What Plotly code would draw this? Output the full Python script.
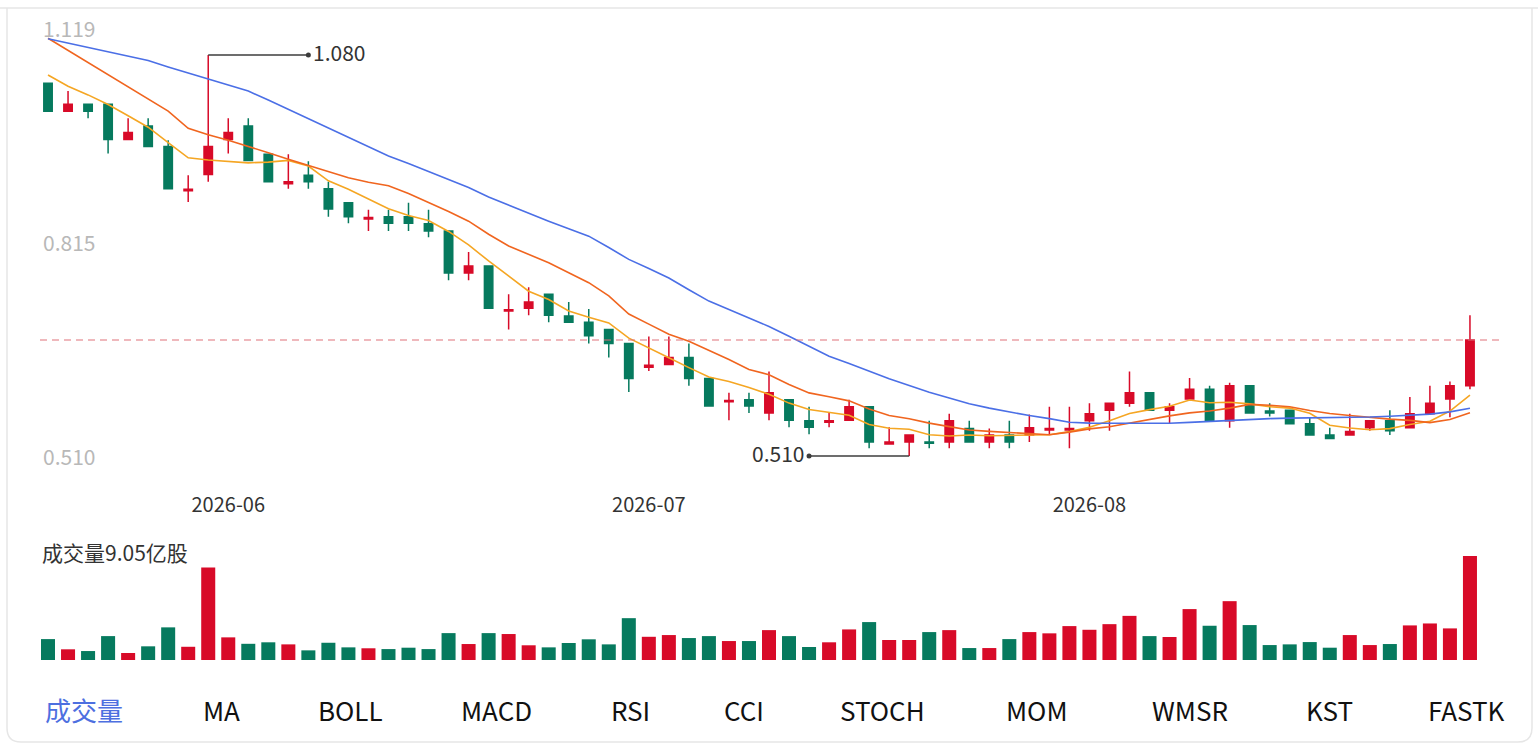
import plotly.graph_objects as go

W, H = 1538, 744

# trading day index (0 = first day shown) and month ticks
days = list(range(72))
month_ticks = [9, 30, 52]
month_labels = ["2026-06", "2026-07", "2026-08"]

open_ = [1.040, 1.000, 1.010, 1.010, 0.960, 0.979, 0.950, 0.887, 0.910, 0.960,
         0.979, 0.939, 0.897, 0.909, 0.890, 0.870, 0.847, 0.850, 0.850, 0.840,
         0.830, 0.770, 0.780, 0.716, 0.720, 0.740, 0.709, 0.700, 0.690, 0.670,
         0.636, 0.640, 0.650, 0.620, 0.587, 0.590, 0.571, 0.590, 0.560, 0.558,
         0.561, 0.580, 0.527, 0.530, 0.530, 0.530, 0.549, 0.530, 0.540, 0.540,
         0.547, 0.547, 0.560, 0.575, 0.585, 0.600, 0.575, 0.591, 0.605, 0.560,
         0.610, 0.574, 0.575, 0.556, 0.540, 0.540, 0.550, 0.560, 0.550, 0.570,
         0.591, 0.610]
high = [1.040, 1.029, 1.010, 1.010, 0.990, 0.990, 0.959, 0.909, 1.080, 0.990,
        0.990, 0.939, 0.939, 0.929, 0.900, 0.870, 0.860, 0.860, 0.870, 0.860,
        0.830, 0.800, 0.780, 0.740, 0.750, 0.740, 0.729, 0.719, 0.690, 0.670,
        0.680, 0.680, 0.670, 0.620, 0.600, 0.600, 0.630, 0.590, 0.580, 0.571,
        0.590, 0.580, 0.551, 0.540, 0.560, 0.570, 0.560, 0.549, 0.560, 0.569,
        0.580, 0.580, 0.585, 0.585, 0.630, 0.600, 0.585, 0.621, 0.610, 0.614,
        0.610, 0.585, 0.575, 0.565, 0.550, 0.570, 0.560, 0.575, 0.594, 0.610,
        0.616, 0.710]
low = [1.000, 1.000, 0.990, 0.940, 0.960, 0.950, 0.890, 0.871, 0.900, 0.940,
       0.930, 0.900, 0.890, 0.890, 0.850, 0.841, 0.830, 0.830, 0.830, 0.821,
       0.760, 0.760, 0.720, 0.690, 0.710, 0.700, 0.700, 0.670, 0.650, 0.601,
       0.631, 0.640, 0.610, 0.581, 0.561, 0.571, 0.561, 0.551, 0.541, 0.551,
       0.561, 0.521, 0.527, 0.510, 0.521, 0.521, 0.530, 0.521, 0.521, 0.530,
       0.540, 0.521, 0.546, 0.546, 0.580, 0.575, 0.556, 0.591, 0.560, 0.550,
       0.571, 0.566, 0.556, 0.540, 0.535, 0.540, 0.546, 0.540, 0.550, 0.570,
       0.565, 0.605]
close = [1.000, 1.010, 1.000, 0.960, 0.970, 0.950, 0.890, 0.889, 0.950, 0.970,
         0.930, 0.900, 0.900, 0.900, 0.861, 0.850, 0.849, 0.841, 0.841, 0.830,
         0.770, 0.780, 0.720, 0.718, 0.729, 0.710, 0.700, 0.681, 0.670, 0.620,
         0.639, 0.650, 0.620, 0.581, 0.589, 0.581, 0.600, 0.561, 0.551, 0.560,
         0.580, 0.530, 0.530, 0.540, 0.528, 0.560, 0.530, 0.540, 0.530, 0.550,
         0.549, 0.549, 0.570, 0.585, 0.600, 0.575, 0.580, 0.605, 0.560, 0.610,
         0.571, 0.571, 0.556, 0.540, 0.535, 0.545, 0.560, 0.546, 0.570, 0.585,
         0.610, 0.675]

# volume, 100 million shares (亿股)
volume = [1.82, 0.93, 0.78, 2.08, 0.61, 1.19, 2.84, 1.15, 8.04, 1.97,
          1.41, 1.54, 1.36, 0.84, 1.50, 1.10, 1.02, 0.95, 1.07, 0.95,
          2.34, 1.39, 2.34, 2.26, 1.28, 1.10, 1.48, 1.80, 1.36, 3.64,
          2.02, 2.17, 1.91, 2.08, 1.65, 1.65, 2.60, 2.08, 1.13, 1.54,
          2.66, 3.30, 1.74, 1.74, 2.43, 2.60, 1.04, 1.04, 1.82, 2.43,
          2.32, 2.95, 2.63, 3.12, 3.84, 2.08, 2.00, 4.43, 2.98, 5.12,
          3.04, 1.30, 1.36, 1.56, 1.07, 2.17, 1.30, 1.39, 3.01, 3.18,
          2.75, 9.05]

ma5 = [1.0516, 1.0355, 1.0233, 1.0097, 0.9936, 0.9774, 0.9555, 0.9339, 0.9308, 0.9288,
       0.9267, 0.9278, 0.9302, 0.9221, 0.9012, 0.8893, 0.8759, 0.8616, 0.8520, 0.8448,
       0.8292, 0.8102, 0.7872, 0.7652, 0.7443, 0.7325, 0.7161, 0.7073, 0.6991, 0.6775,
       0.6631, 0.6496, 0.6356, 0.6222, 0.6159, 0.6074, 0.5977, 0.5852, 0.5761, 0.5723,
       0.5679, 0.5548, 0.5494, 0.5481, 0.5403, 0.5385, 0.5398, 0.5389, 0.5395, 0.5399,
       0.5403, 0.5447, 0.5508, 0.5602, 0.5703, 0.5759, 0.5807, 0.5896, 0.5858, 0.5864,
       0.5841, 0.5800, 0.5781, 0.5707, 0.5537, 0.5498, 0.5473, 0.5490, 0.5548, 0.5594,
       0.5739, 0.5965]
ma10 = [1.1038, 1.0864, 1.0691, 1.0519, 1.0348, 1.0178, 1.0003, 0.9758, 0.9667, 0.9588,
        0.9505, 0.9412, 0.9318, 0.9227, 0.9142, 0.9056, 0.8992, 0.8943, 0.8832, 0.8708,
        0.8576, 0.8438, 0.8252, 0.8085, 0.7965, 0.7847, 0.7706, 0.7564, 0.7376, 0.7119,
        0.6975, 0.6830, 0.6731, 0.6603, 0.6472, 0.6330, 0.6256, 0.6117, 0.5997, 0.5943,
        0.5884, 0.5768, 0.5677, 0.5629, 0.5568, 0.5518, 0.5469, 0.5450, 0.5433, 0.5413,
        0.5403, 0.5440, 0.5486, 0.5517, 0.5571, 0.5626, 0.5670, 0.5713, 0.5740, 0.5781,
        0.5834, 0.5821, 0.5801, 0.5747, 0.5704, 0.5676, 0.5649, 0.5625, 0.5606, 0.5575,
        0.5618, 0.5716]
ma20 = [1.1030, 1.0969, 1.0908, 1.0847, 1.0786, 1.0723, 1.0631, 1.0544, 1.0458, 1.0371,
        1.0287, 1.0159, 1.0027, 0.9893, 0.9758, 0.9623, 0.9490, 0.9366, 0.9257, 0.9142,
        0.9031, 0.8917, 0.8782, 0.8665, 0.8549, 0.8438, 0.8330, 0.8225, 0.8063, 0.7895,
        0.7764, 0.7631, 0.7463, 0.7302, 0.7184, 0.7063, 0.6941, 0.6803, 0.6661, 0.6519,
        0.6415, 0.6306, 0.6199, 0.6102, 0.6006, 0.5925, 0.5844, 0.5781, 0.5724, 0.5675,
        0.5631, 0.5579, 0.5568, 0.5565, 0.5565, 0.5565, 0.5565, 0.5578, 0.5594, 0.5608,
        0.5621, 0.5632, 0.5638, 0.5641, 0.5643, 0.5646, 0.5655, 0.5666, 0.5679, 0.5695,
        0.5727, 0.5778]

price_ticks = [0.510, 0.815, 1.119]
tabs = ["成交量", "MA", "BOLL", "MACD", "RSI", "CCI", "STOCH", "MOM", "WMSR", "KST", "FASTK"]

RED = "#d80a28"
GREEN = "#067a5e"
FONT = "Microsoft YaHei, Noto Sans CJK SC, Noto Sans, sans-serif"


def px(x):
    return x / W


def py(y):
    return 1 - y / H


fig = go.Figure()

fig.add_trace(go.Candlestick(
    x=days, open=open_, high=high, low=low, close=close,
    increasing=dict(line=dict(color=RED, width=1.5), fillcolor=RED),
    decreasing=dict(line=dict(color=GREEN, width=1.5), fillcolor=GREEN),
    showlegend=False,
))

for ma, color in [(ma5, "#f5a623"), (ma10, "#f0651f"), (ma20, "#4b6fe6")]:
    fig.add_trace(go.Scatter(x=days, y=ma, mode="lines",
                             line=dict(color=color, width=1.6),
                             showlegend=False, hoverinfo="skip"))

# max / min markers
hmax = max(high)
imax = high.index(hmax)
lmin = min(low)
imin = low.index(lmin)
fig.add_trace(go.Scatter(x=[imax, imax + 5], y=[hmax, hmax], mode="lines",
                         line=dict(color="#3c3c3c", width=1.3),
                         showlegend=False, hoverinfo="skip"))
fig.add_trace(go.Scatter(x=[imin, imin - 5], y=[lmin, lmin], mode="lines",
                         line=dict(color="#3c3c3c", width=1.3),
                         showlegend=False, hoverinfo="skip"))
fig.add_trace(go.Scatter(x=[imax + 5, imin - 5], y=[hmax, lmin], mode="markers",
                         marker=dict(color="#3c3c3c", size=5),
                         showlegend=False, hoverinfo="skip"))

fig.add_trace(go.Bar(
    x=days, y=volume, width=0.7,
    marker=dict(color=[RED if c >= o else GREEN for o, c in zip(open_, close)], line_width=0),
    xaxis="x2", yaxis="y2", showlegend=False,
))

annotations = [
    dict(x=imax + 5, y=hmax, xref="x", yref="y", text=f"{hmax:.3f}", showarrow=False,
         xanchor="left", xshift=3, yshift=3, font=dict(size=21, color="#333")),
    dict(x=imin - 5, y=lmin, xref="x", yref="y", text=f"{lmin:.3f}", showarrow=False,
         xanchor="right", xshift=-3, yshift=3, font=dict(size=21, color="#333")),
    dict(x=px(40), y=py(552), xref="paper", yref="paper", text=f"成交量{volume[-1]:.2f}亿股",
         showarrow=False, xanchor="left", yanchor="middle", font=dict(size=21, color="#333")),
]

tab_centers = [84, 222, 350, 496, 630, 744, 882, 1037, 1190, 1329, 1466]
for i, (name, cx) in enumerate(zip(tabs, tab_centers)):
    annotations.append(dict(x=px(cx), y=py(709), xref="paper", yref="paper", text=name,
                            showarrow=False, xanchor="center", yanchor="middle",
                            font=dict(size=26, color="#4d6fe0" if i == 0 else "#111")))

r = 14
x0, x1, yt, yb = px(7), px(1532), py(8), py(742)
card = (f"M {x0},{yt} L {x0},{yb + r / H} Q {x0},{yb} {x0 + r / W},{yb} "
        f"L {x1 - r / W},{yb} Q {x1},{yb} {x1},{yb + r / H} L {x1},{yt}")

shapes = [
    dict(type="path", xref="paper", yref="paper", path=card,
         line=dict(color="#e6e6e6", width=1.5)),
    dict(type="line", xref="paper", yref="paper", x0=0, x1=1, y0=yt, y1=yt,
         line=dict(color="#e6e6e6", width=1.5)),
    dict(type="line", xref="x domain", yref="y", x0=0, x1=1, y0=close[-1], y1=close[-1],
         line=dict(color="rgba(222,110,120,0.65)", width=1.5, dash="7px,5px")),
]

# price axis: 1.080 at pixel 55, 0.0014214 per pixel
top_pix, bot_pix = 5, 485
yr = [1.080 - (bot_pix - 55) * 0.0014214, 1.080 + (55 - top_pix) * 0.0014214]
xr = [-0.4, 72.6]
xdom = [px(40), px(1502)]

fig.update_layout(
    width=W, height=H,
    margin=dict(l=0, r=0, t=0, b=0),
    paper_bgcolor="white", plot_bgcolor="white",
    font=dict(family=FONT),
    boxgap=0.4,
    bargap=0.3,
    xaxis=dict(domain=xdom, range=xr, rangeslider=dict(visible=False),
               tickvals=month_ticks, ticktext=month_labels, ticks="",
               ticklabelstandoff=6,
               tickfont=dict(size=20, color="#333"),
               showgrid=False, zeroline=False, showline=False, fixedrange=True),
    yaxis=dict(domain=[py(bot_pix), py(top_pix)], range=yr,
               tickvals=price_ticks, ticktext=[f"{v:.3f}" for v in price_ticks],
               ticklabelposition="inside", ticklabelshift=2, ticks="",
               tickfont=dict(size=21, color="#b8b8b8"),
               showgrid=False, zeroline=False, showline=False, fixedrange=True),
    xaxis2=dict(domain=xdom, range=xr, anchor="y2", visible=False, fixedrange=True),
    yaxis2=dict(domain=[py(660), py(556)], range=[0, max(volume)], anchor="x2",
                visible=False, fixedrange=True),
    annotations=annotations,
    shapes=shapes,
    showlegend=False,
)

fig.write_html("out.html", config={"displayModeBar": False},
               post_script="document.body.style.margin='0';")
